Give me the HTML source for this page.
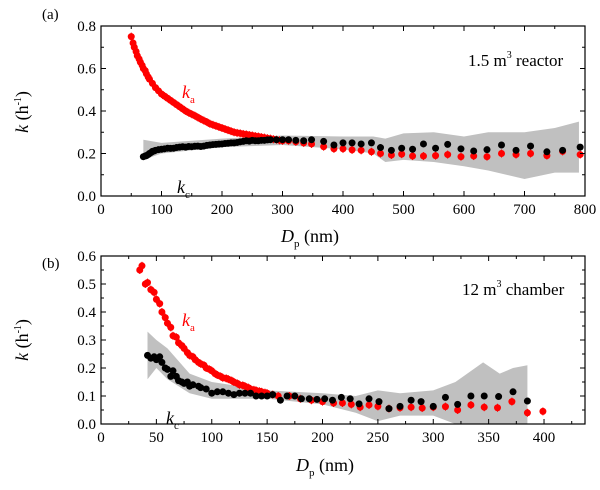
<!DOCTYPE html>
<html><head><meta charset="utf-8">
<style>body{margin:0;background:#fff}svg{display:block}text,tspan{font-family:"Liberation Serif","DejaVu Serif",serif}</style>
</head><body>
<svg id="c" width="600" height="490"></svg>
<script>
const kaAx=[50,53,55,58,60,63,65,68,70,73,75,78,80,85,90,95,100,105,110,115,120,125,130,135,140,145,150,155,160,165,170,175,180,185,190,195,200,205,210,215,220,225,230,235,240,245,250,255,260,265,270,275,280,285,290,295,300,310,322,335,348,368,385,400,415,430,447,462,480,497,515,533,553,573,595,616,638,662,686,710,737,763,792];
const kaAy=[0.75,0.72,0.70,0.68,0.66,0.645,0.63,0.615,0.60,0.59,0.575,0.56,0.55,0.53,0.51,0.495,0.48,0.47,0.46,0.45,0.44,0.43,0.42,0.41,0.40,0.392,0.385,0.378,0.37,0.362,0.355,0.348,0.34,0.335,0.33,0.325,0.32,0.315,0.31,0.305,0.30,0.297,0.295,0.292,0.29,0.287,0.285,0.282,0.28,0.277,0.275,0.272,0.27,0.267,0.265,0.262,0.26,0.26,0.255,0.25,0.245,0.232,0.222,0.222,0.217,0.215,0.208,0.2,0.193,0.197,0.188,0.188,0.19,0.195,0.185,0.188,0.185,0.2,0.195,0.2,0.19,0.21,0.195];
const kcAx=[70,73,75,78,80,83,85,88,90,95,100,105,110,115,120,125,130,135,140,145,150,155,160,165,170,175,180,185,190,195,200,205,210,215,220,225,230,235,240,245,250,255,260,265,270,275,280,290,300,310,322,335,348,368,385,400,415,430,447,462,480,497,515,533,553,573,595,616,638,662,686,710,737,763,792];
const kcAy=[0.185,0.188,0.19,0.195,0.2,0.205,0.21,0.212,0.215,0.218,0.22,0.222,0.225,0.224,0.225,0.228,0.23,0.232,0.23,0.233,0.232,0.234,0.235,0.233,0.235,0.238,0.24,0.242,0.243,0.244,0.245,0.247,0.248,0.25,0.25,0.252,0.255,0.257,0.26,0.258,0.262,0.26,0.26,0.262,0.262,0.264,0.265,0.265,0.265,0.265,0.262,0.26,0.265,0.257,0.24,0.25,0.25,0.245,0.25,0.228,0.215,0.225,0.22,0.245,0.225,0.243,0.222,0.212,0.218,0.24,0.215,0.235,0.208,0.215,0.23];
const bandAx=[70,100,200,300,400,450,470,500,550,600,640,700,750,790];
const bandAhi=[0.265,0.25,0.27,0.285,0.28,0.28,0.27,0.295,0.30,0.28,0.30,0.30,0.32,0.35];
const bandAlo=[0.17,0.2,0.23,0.24,0.22,0.2,0.16,0.17,0.16,0.14,0.12,0.08,0.11,0.11];

const kaBx=[35,37,40,42,45,48,50,53,55,58,60,63,65,68,70,73,75,78,80,83,85,88,90,93,95,98,100,103,105,108,110,113,115,118,120,123,125,128,130,133,135,138,140,143,145,148,150,155,160,170,180,190,200,210,218,226,234,242,250,260,270,280,290,300,311,322,334,346,358,371,385,399];
const kaBy=[0.55,0.565,0.50,0.505,0.48,0.47,0.445,0.43,0.40,0.38,0.36,0.345,0.315,0.31,0.29,0.28,0.27,0.255,0.245,0.24,0.23,0.22,0.215,0.21,0.2,0.195,0.19,0.18,0.175,0.17,0.165,0.163,0.16,0.155,0.15,0.145,0.14,0.138,0.135,0.13,0.125,0.122,0.12,0.117,0.115,0.112,0.11,0.105,0.1,0.1,0.09,0.085,0.08,0.075,0.075,0.07,0.06,0.068,0.063,0.055,0.058,0.06,0.057,0.06,0.062,0.05,0.068,0.06,0.058,0.08,0.04,0.045];
const kcBx=[42,45,48,50,53,55,58,60,63,65,68,70,73,75,78,80,83,88,90,95,100,105,110,115,120,125,130,135,140,145,150,155,162,168,175,181,188,195,202,209,217,225,233,242,251,260,270,280,289,300,311,322,334,346,359,372,385];
const kcBy=[0.245,0.235,0.24,0.23,0.24,0.22,0.2,0.195,0.17,0.19,0.17,0.155,0.15,0.145,0.15,0.135,0.14,0.135,0.13,0.125,0.11,0.115,0.115,0.11,0.105,0.11,0.11,0.11,0.1,0.1,0.1,0.105,0.085,0.1,0.1,0.09,0.09,0.088,0.09,0.085,0.095,0.09,0.072,0.09,0.08,0.055,0.063,0.085,0.08,0.063,0.095,0.07,0.1,0.1,0.098,0.115,0.082];
const bandBx=[42,50,60,80,100,150,200,230,250,270,300,320,345,360,372,385];
const bandBhi=[0.33,0.3,0.27,0.18,0.15,0.12,0.11,0.1,0.12,0.11,0.12,0.15,0.22,0.18,0.2,0.21];
const bandBlo=[0.16,0.2,0.16,0.11,0.09,0.09,0.07,0.04,0.01,0.03,0.03,0.0,0.0,0.0,0.0,0.0];

const svg=document.getElementById('c');const NS='http://www.w3.org/2000/svg';
function el(t,a,p){const e=document.createElementNS(NS,t);for(const k in a)e.setAttribute(k,a[k]);(p||svg).appendChild(e);return e;}
function panel(o){
 const g=el('g',{});
 
 
 const X=v=>o.x0+(v-o.xmin)/(o.xmax-o.xmin)*(o.x1-o.x0);
 const Y=v=>o.y0-(v-o.ymin)/(o.ymax-o.ymin)*(o.y0-o.y1);
 let d='M'+o.bx.map((x,i)=>X(x)+','+Y(o.bhi[i])).join('L');
 for(let i=o.bx.length-1;i>=0;i--)d+='L'+X(o.bx[i])+','+Y(o.blo[i]);
 const b=el('path',{d:d+'Z',fill:'#c0c0c0'},g);
 
 
 o.kax.forEach((x,i)=>{
  const y=o.kay[i];
  el('line',{x1:X(x),x2:X(x),y1:Y(y)-4,y2:Y(y)+4,stroke:'#e00',"stroke-width":1},g);
  const c=el('circle',{cx:X(x),cy:Y(y),r:3.5,fill:'#f00'},g);
  
  
 });
 o.kcx.forEach((x,i)=>{
  const c=el('circle',{cx:X(x),cy:Y(o.kcy[i]),r:3.5,fill:'#000'},g);
  
  
 });
 el('rect',{x:o.x0,y:o.y1,width:o.x1-o.x0,height:o.y0-o.y1,fill:'none',stroke:'#000',"stroke-width":1.2},g);
 for(let v=o.xmin;v<=o.xmax+1e-9;v+=o.xminor){
  const maj=Math.abs(v/o.xmajor-Math.round(v/o.xmajor))<1e-6;const L=maj?5:3;
  el('line',{x1:X(v),x2:X(v),y1:o.y0,y2:o.y0-L,stroke:'#000'},g);
  el('line',{x1:X(v),x2:X(v),y1:o.y1,y2:o.y1+L,stroke:'#000'},g);
  if(maj){const t=el('text',{x:X(v),y:o.y0+18,"text-anchor":"middle","font-size":15,"font-family":"Liberation Serif, serif"},g);t.textContent=Math.round(v);
   
   }
 }
 for(let v=o.ymin;v<=o.ymax+1e-9;v+=o.yminor){
  const maj=Math.abs(v/o.ymajor-Math.round(v/o.ymajor))<1e-6;const L=maj?5:3;
  el('line',{x1:o.x0,x2:o.x0+L,y1:Y(v),y2:Y(v),stroke:'#000'},g);
  el('line',{x1:o.x1,x2:o.x1-L,y1:Y(v),y2:Y(v),stroke:'#000'},g);
  if(maj){const t=el('text',{x:o.x0-5,y:Y(v)+5,"text-anchor":"end","font-size":15,"font-family":"Liberation Serif, serif"},g);t.textContent=v.toFixed(1);
   
   }
 }
 return {X,Y,g};
}
panel({name:'panel-a',x0:101,x1:585,y0:196,y1:26,xmin:0,xmax:800,ymin:0,ymax:0.8,xmajor:100,xminor:50,ymajor:0.2,yminor:0.1,
 kax:kaAx,kay:kaAy,kcx:kcAx,kcy:kcAy,bx:bandAx,bhi:bandAhi,blo:bandAlo});
panel({name:'panel-b',x0:101,x1:585,y0:424,y1:256,xmin:0,xmax:437,ymin:0,ymax:0.6,xmajor:50,xminor:25,ymajor:0.1,yminor:0.05,
 kax:kaBx,kay:kaBy,kcx:kcBx,kcy:kcBy,bx:bandBx,bhi:bandBhi,blo:bandBlo});
</script>
<svg style="position:absolute;left:0;top:0" width="600" height="490" font-family="Liberation Serif, serif">
<text x="42" y="19" font-size="15">(a)</text>
<text x="42" y="268" font-size="15">(b)</text>
<text x="468" y="66" font-size="17">1.5 m<tspan font-size="10" dy="-8">3</tspan><tspan dy="8"> reactor</tspan></text>
<text x="462" y="295" font-size="17">12 m<tspan font-size="10" dy="-8">3</tspan><tspan dy="8"> chamber</tspan></text>
<text x="182" y="98" font-size="18" font-style="italic" fill="#f00">k<tspan font-size="11" font-style="normal" dy="5">a</tspan></text>
<text x="177" y="193" font-size="18" font-style="italic">k<tspan font-size="11" font-style="normal" dy="5">c</tspan></text>
<text x="182" y="326" font-size="18" font-style="italic" fill="#f00">k<tspan font-size="11" font-style="normal" dy="5">a</tspan></text>
<text x="166" y="424" font-size="18" font-style="italic">k<tspan font-size="11" font-style="normal" dy="5">c</tspan></text>
<text x="310" y="242" font-size="18" text-anchor="middle"><tspan font-style="italic">D</tspan><tspan font-size="11" dy="5">p</tspan><tspan dy="-5"> (nm)</tspan></text>
<text x="325" y="471" font-size="18" text-anchor="middle"><tspan font-style="italic">D</tspan><tspan font-size="11" dy="5">p</tspan><tspan dy="-5"> (nm)</tspan></text>
<text transform="translate(28,112) rotate(-90)" font-size="18" text-anchor="middle"><tspan font-style="italic">k</tspan> (h<tspan font-size="10" dy="-7">-1</tspan><tspan dy="7">)</tspan></text>
<text transform="translate(28,340) rotate(-90)" font-size="18" text-anchor="middle"><tspan font-style="italic">k</tspan> (h<tspan font-size="10" dy="-7">-1</tspan><tspan dy="7">)</tspan></text>
</svg>
</body></html>
